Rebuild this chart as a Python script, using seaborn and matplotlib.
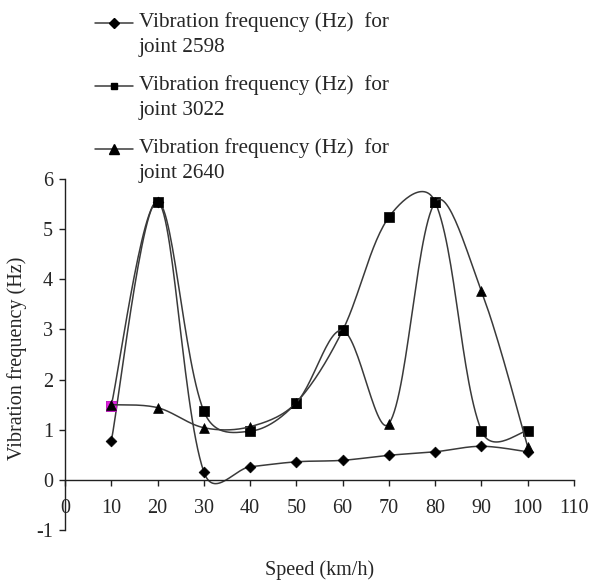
import numpy as np
import seaborn as sns
import matplotlib
matplotlib.use("Agg")
import matplotlib.pyplot as plt
from matplotlib.lines import Line2D

# data
speed = [10, 20, 30, 40, 50, 60, 70, 80, 90, 100]
joint_2598 = [0.77, 5.55, 0.16, 0.26, 0.36, 0.39, 0.49, 0.56, 0.67, 0.56]
joint_3022 = [1.48, 5.55, 1.37, 0.97, 1.54, 2.98, 5.24, 5.54, 0.98, 0.98]
joint_2640 = [1.50, 1.44, 1.04, 1.06, 1.54, 2.98, 1.12, 5.54, 3.76, 0.66]
series_labels = [
    "Vibration frequency (Hz)  for\njoint 2598",
    "Vibration frequency (Hz)  for\njoint 3022",
    "Vibration frequency (Hz)  for\njoint 2640",
]
x_ticks = list(range(0, 111, 10))
y_ticks = list(range(-1, 7))

# screen scale (px per data unit), used for the Excel-like smoothing
PX_X = 4.63
PX_Y = 50.2


def smooth(xs, ys, n=30):
    # bezier smoothing like Excel's "smoothed line"
    p = np.column_stack([np.asarray(xs, float) * PX_X, np.asarray(ys, float) * PX_Y])
    m = len(p)
    out = [p[0]]
    t = np.linspace(0, 1, n)[1:, None]
    for i in range(m - 1):
        p0 = p[i - 1] if i > 0 else p[i]
        p1, p2 = p[i], p[i + 1]
        p3 = p[i + 2] if i + 2 < m else p2
        l01 = np.hypot(*(p1 - p0))
        l12 = np.hypot(*(p2 - p1))
        l23 = np.hypot(*(p3 - p2))
        f1 = 0.5 + l12 / (l01 + l12) if i > 0 else 1.0
        f2 = 0.5 + l12 / (l12 + l23) if i + 2 < m else 1.0
        c1 = p1 + (p2 - p0) / 6 * f1
        c2 = p2 - (p3 - p1) / 6 * f2
        seg = (1 - t) ** 3 * p1 + 3 * (1 - t) ** 2 * t * c1 + 3 * (1 - t) * t ** 2 * c2 + t ** 3 * p2
        out.extend(seg)
    out = np.array(out)
    return out[:, 0] / PX_X, out[:, 1] / PX_Y


sns.set_style("ticks")
plt.rcParams["font.family"] = ["Liberation Serif", "DejaVu Serif"]
plt.rcParams["axes.unicode_minus"] = False

fig = plt.figure(figsize=(5.95, 5.81), dpi=100)
ax = fig.add_axes([65 / 595, 1 - 530 / 581, (574 - 65) / 595, (530 - 179) / 581])

line_color = "#3a3a3a"
styles = [("D", 30), ("s", 44), ("^", 50)]
legend_marker_sizes = [4.6, 5.0, 6.5]
all_series = [joint_2598, joint_3022, joint_2640]

for k, (vals, (mk, sz)) in enumerate(zip(all_series, styles)):
    sx, sy = smooth(speed, vals)
    sns.lineplot(x=sx, y=sy, sort=False, estimator=None, color=line_color,
                 lw=1.1, ax=ax, zorder=2 + k)
    sns.scatterplot(x=speed, y=vals, marker=mk, s=sz, color="black",
                    edgecolor="black", linewidth=0.5, ax=ax, zorder=2.5 + k)
    if k == 1:
        # first square is drawn in magenta in the original
        sns.scatterplot(x=speed[:1], y=vals[:1], marker=mk, s=sz, color="#e020e0",
                        edgecolor="#e020e0", linewidth=0.5, ax=ax, zorder=2.6 + k)

ax.set_xlim(0, 110)
ax.set_ylim(-1, 6)
ax.set_xticks(x_ticks)
ax.set_yticks(y_ticks)
ax.spines["bottom"].set_position(("data", 0))
ax.spines["top"].set_visible(False)
ax.spines["right"].set_visible(False)
for s in ("left", "bottom"):
    ax.spines[s].set_color("#202020")
    ax.spines[s].set_linewidth(1.0)
ax.tick_params(axis="x", direction="out", length=4.5, width=1, pad=9,
               labelsize=14.5, color="#202020")
ax.tick_params(axis="y", direction="out", length=4.5, width=1, pad=4,
               labelsize=14.5, color="#202020")

ax.set_xlabel("Speed (km/h)", fontsize=14.5)
ax.xaxis.set_label_coords(0.5, -0.085)
ax.set_ylabel("Vibration frequency (Hz)", fontsize=14.5)
ax.yaxis.set_label_coords(-0.075, 0.49)

handles = [Line2D([], [], color=line_color, lw=1.1, marker=mk, markersize=ms,
                  markerfacecolor="black", markeredgecolor="black")
           for (mk, _), ms in zip(styles, legend_marker_sizes)]
leg = fig.legend(handles, series_labels, loc="upper left",
                 bbox_to_anchor=(95 / 595, 1 - 12 / 581), frameon=False,
                 fontsize=15.3, handlelength=1.8, handletextpad=0.25,
                 handleheight=1.8, labelspacing=0.83, borderpad=0, borderaxespad=0)
for txt in leg.get_texts():
    txt.set_linespacing(1.45)
for col in leg._legend_handle_box.get_children():
    for row in col.get_children():
        row.align = "top"

fig.savefig("out.png", dpi=100)
